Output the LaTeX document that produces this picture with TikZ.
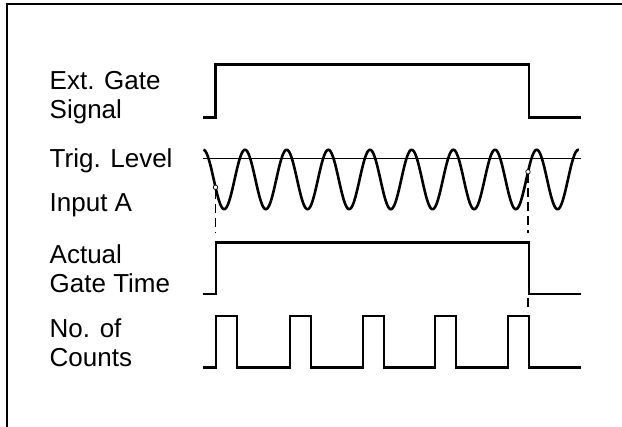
\documentclass[tikz,border=0pt]{standalone}
\usepackage{fontspec}
\setmainfont{Liberation Sans}
\begin{document}
\begin{tikzpicture}[x=1pt,y=-1pt,
  sig/.style={line width=2.8pt, line join=miter},
  lbl/.style={anchor=base west, inner sep=0pt, font=\fontsize{26}{29}\selectfont},
  lvl/.style={line width=1.5pt},
  guide/.style={line width=1.4pt, dash pattern=on 9pt off 5pt},
  frameline/.style={line width=2pt},
  mark point/.style={circle, draw, fill=white, inner sep=0pt, minimum size=4.5pt, line width=0.7pt}]
\useasboundingbox (0,0) rectangle (622,427);
\draw[frameline] (7,427) -- (7,4) -- (622,4);

% labels
\node[lbl] (l1) at (49.5,89.5) {Ext. Gate};
\node[lbl] (l2) at (49.5,118.5) {Signal};
\node[lbl] (l3) at (49.5,167.5) {Trig. Level};
\node[lbl] (l4) at (49.5,212) {Input A};
\node[lbl] (l5) at (49.5,264) {Actual};
\node[lbl] (l6) at (49.5,293) {Gate Time};
\node[lbl] (l7) at (49.5,338) {No. of};
\node[lbl] (l8) at (49.5,367) {Counts};

% external gate signal
\draw[sig] (203,117.5) -- (215.5,117.5) -- (215.5,64.3) -- (529,64.3) -- (529,117.5) -- (581,117.5);

% trigger level
\draw[lvl] (203,158.5) -- (581,158.5);

% input A
\draw[sig, line width=2.6pt] plot[domain=203.5:579, samples=500, smooth] (\x, {179.5 - 29.7*cos(8.6393*(\x-245))});

\node[mark point] (c1) at (215.5,187.3) {};
\node[mark point] (c2) at (528,171.8) {};
\coordinate (d1) at (215.5,232);
\coordinate (d2) at (528,233);
\coordinate (d3a) at (528,298);
\coordinate (d3b) at (528,312);
\draw[guide] (c1.south) -- (d1);
\draw[guide] (c2.south) -- (d2);
\draw[guide] (d3a) -- (d3b);

% actual gate time
\draw[sig] (203,294) -- (216,294) -- (216,242.7) -- (529,242.7) -- (529,294) -- (581,294);

% counts
\draw[sig] (203,367.7) -- (216,367.7) -- (216,316) -- (237,316) -- (237,367.7)
  -- (290,367.7) -- (290,316) -- (311,316) -- (311,367.7)
  -- (363,367.7) -- (363,316) -- (384,316) -- (384,367.7)
  -- (435,367.7) -- (435,316) -- (456,316) -- (456,367.7)
  -- (508,367.7) -- (508,316) -- (529,316) -- (529,367.7)
  -- (581,367.7);
\end{tikzpicture}
\end{document}
